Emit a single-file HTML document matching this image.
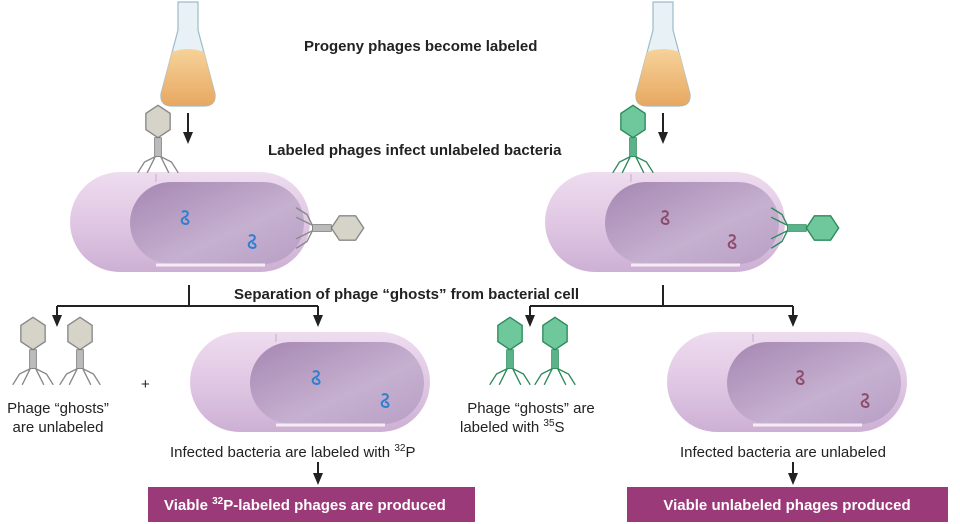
<!DOCTYPE html>
<html><head><meta charset="utf-8"><style>
body{margin:0;width:960px;height:524px;background:#fff;overflow:hidden;font-family:"Liberation Sans",sans-serif}
svg{display:block}
.b{font-weight:bold;font-size:15px;fill:#222}
.r{font-size:15px;fill:#222}
.w{font-weight:bold;font-size:15px;fill:#fff}
</style></head><body>
<svg width="960" height="524" viewBox="0 0 960 524">
<defs>
<linearGradient id="out" x1="0" y1="0" x2="0" y2="1"><stop offset="0" stop-color="#eedcef"/><stop offset="0.5" stop-color="#e0c8e4"/><stop offset="1" stop-color="#cdb0d4"/></linearGradient>
<linearGradient id="inn" x1="0" y1="0" x2="1" y2="1"><stop offset="0" stop-color="#a587b2"/><stop offset="0.6" stop-color="#c6b0d0"/><stop offset="1" stop-color="#b79fc4"/></linearGradient>
<linearGradient id="liq" x1="0" y1="0" x2="0" y2="1"><stop offset="0" stop-color="#f6d29a"/><stop offset="1" stop-color="#e7a860"/></linearGradient>
<g id="cell">
<rect x="0" y="0" width="240" height="100" rx="50" fill="url(#out)"/>
<rect x="60" y="10" width="174" height="82" rx="41" fill="url(#inn)"/>
<path d="M86,10 V2" stroke="#d9c3de" stroke-width="2"/>
<path d="M86,93 H195" stroke="#f6ecf7" stroke-width="3"/>
</g>
<g id="phg">
<polygon points="0,-22 9,-16 9,-4 0,2 -9,-4 -9,-16" fill="#d6d4c8" stroke="#888" stroke-width="1"/>
<rect x="-2.5" y="2" width="5" height="14" fill="#bbb" stroke="#777" stroke-width="0.6"/>
<path d="M-2,16 L-10,20 L-15,28 M2,16 L10,20 L15,28 M-2,16 L-5,22 L-8,28 M2,16 L5,22 L8,28" stroke="#888" fill="none" stroke-width="1"/>
</g>
<g id="phgG">
<polygon points="0,-22 9,-16 9,-4 0,2 -9,-4 -9,-16" fill="#6fc79c" stroke="#2c8a5a" stroke-width="1"/>
<rect x="-2.5" y="2" width="5" height="14" fill="#5ab38a" stroke="#2c8a5a" stroke-width="0.6"/>
<path d="M-2,16 L-10,20 L-15,28 M2,16 L10,20 L15,28 M-2,16 L-5,22 L-8,28 M2,16 L5,22 L8,28" stroke="#2c8a5a" fill="none" stroke-width="1"/>
</g>
<g id="dnaB"><path d="M-3,-6 C3,-9 5,-3 0,-1 C-5,1 -4,6 1,6 C5,6 4,1 0,1" fill="none" stroke="#2f7fd0" stroke-width="2"/></g>
<g id="dnaR"><path d="M-3,-6 C3,-9 5,-3 0,-1 C-5,1 -4,6 1,6 C5,6 4,1 0,1" fill="none" stroke="#8e4a6a" stroke-width="2"/></g>
<g id="flask">
<path d="M18,0 H38 V28 L55,92 Q56,104 44,104 H12 Q0,104 1,92 L18,28 Z" fill="#e8f1f5" stroke="#9bbccb" stroke-width="1.2"/>
<path d="M12,50 Q28,44 44,50 L55,92 Q56,104 44,104 H12 Q0,104 1,92 Z" fill="url(#liq)"/>
</g>
<g id="ar"><polygon points="-5,-12 5,-12 0,0" fill="#222"/></g>
</defs>

<use href="#flask" x="160" y="2"/>
<use href="#flask" x="635" y="2"/>
<line x1="188" y1="113" x2="188" y2="132" stroke="#222" stroke-width="2"/><use href="#ar" x="188" y="144"/>
<line x1="663" y1="113" x2="663" y2="132" stroke="#222" stroke-width="2"/><use href="#ar" x="663" y="144"/>

<text class="b" x="304" y="51">Progeny phages become labeled</text>
<text class="b" x="268" y="155">Labeled phages infect unlabeled bacteria</text>

<use href="#cell" x="70" y="172"/>
<use href="#cell" x="545" y="172"/>
<use href="#phg" transform="translate(158,135) scale(1.35)"/>
<use href="#phg" transform="translate(334,228) rotate(90) scale(1.35)"/>
<use href="#phgG" transform="translate(633,135) scale(1.35)"/>
<use href="#phgG" transform="translate(809,228) rotate(90) scale(1.35)"/>
<use href="#dnaB" x="185" y="218"/>
<use href="#dnaB" x="252" y="242"/>
<use href="#dnaR" x="665" y="218"/>
<use href="#dnaR" x="732" y="242"/>

<path d="M189,285 V306 M57,306 H318 M663,285 V306 M530,306 H793 M57,306 V316 M318,306 V316 M530,306 V316 M793,306 V316" stroke="#222" stroke-width="2" fill="none"/>
<use href="#ar" x="57" y="327"/><use href="#ar" x="318" y="327"/><use href="#ar" x="530" y="327"/><use href="#ar" x="793" y="327"/>
<rect x="232" y="283" width="358" height="20" fill="#fff"/>
<text class="b" x="234" y="299">Separation of phage “ghosts” from bacterial cell</text>

<use href="#phg" transform="translate(33,347) scale(1.35)"/>
<use href="#phg" transform="translate(80,347) scale(1.35)"/>
<text class="r" x="141" y="389">+</text>
<text class="r" x="58" y="413" text-anchor="middle">Phage “ghosts”</text>
<text class="r" x="58" y="432" text-anchor="middle">are unlabeled</text>
<use href="#cell" x="190" y="332"/>
<use href="#dnaB" x="316" y="378"/>
<use href="#dnaB" x="385" y="401"/>
<text class="r" x="170" y="457">Infected bacteria are labeled with <tspan font-size="10" dy="-6">32</tspan><tspan dy="6">P</tspan></text>
<line x1="318" y1="462" x2="318" y2="474" stroke="#222" stroke-width="2"/><use href="#ar" x="318" y="485"/>
<rect x="148" y="487" width="327" height="35" fill="#9b3a78"/>
<text class="w" x="164" y="510">Viable <tspan font-size="10" dy="-6">32</tspan><tspan dy="6">P-labeled phages are produced</tspan></text>

<use href="#phgG" transform="translate(510,347) scale(1.35)"/>
<use href="#phgG" transform="translate(555,347) scale(1.35)"/>
<text class="r" x="531" y="413" text-anchor="middle">Phage “ghosts” are</text>
<text class="r" x="460" y="432">labeled with <tspan font-size="10" dy="-6">35</tspan><tspan dy="6">S</tspan></text>
<use href="#cell" x="667" y="332"/>
<use href="#dnaR" x="800" y="378"/>
<use href="#dnaR" x="865" y="401"/>
<text class="r" x="680" y="457">Infected bacteria are unlabeled</text>
<line x1="793" y1="462" x2="793" y2="474" stroke="#222" stroke-width="2"/><use href="#ar" x="793" y="485"/>
<rect x="627" y="487" width="321" height="35" fill="#9b3a78"/>
<text class="w" x="787" y="510" text-anchor="middle">Viable unlabeled phages produced</text>
</svg>
</body></html>
